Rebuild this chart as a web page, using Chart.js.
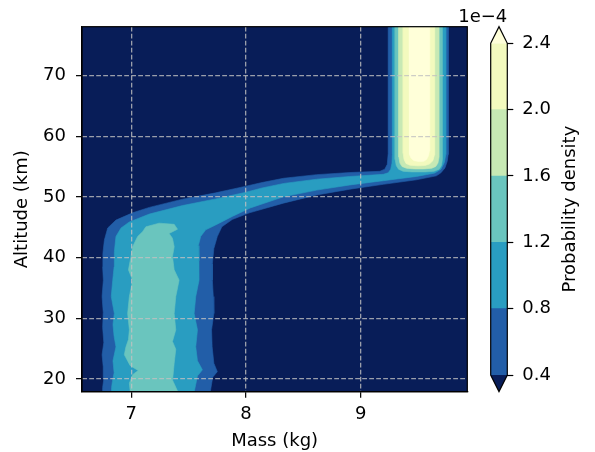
<!DOCTYPE html>
<html>
<head>
<meta charset="utf-8">
<script src="https://cdn.jsdelivr.net/npm/chart.js@4.4.0/dist/chart.umd.min.js"></script>
<style>
  html, body { margin: 0; padding: 0; background: #fff; }
  #wrap { position: relative; width: 595px; height: 452px; }
  #main { position: absolute; left: 0; top: 0; width: 480px; height: 452px; }
  #cbar { position: absolute; left: 440px; top: 0; width: 155px; height: 452px; }
</style>
</head>
<body>
<div id="wrap">
  <canvas id="main" width="480" height="452"></canvas>
  <canvas id="cbar" width="155" height="452"></canvas>
</div>
<script>
var levels = [0.4, 0.8, 1.2, 1.6, 2.0, 2.4];
var bandColors = ['#081d58', '#225ea8', '#299dc1', '#6ac5be', '#c7e9b4', '#f3fabe', '#ffffd9'];
var massTicks = [7, 8, 9];
var altTicks = [20, 30, 40, 50, 60, 70];
var massRange = [6.57, 9.93];
var altRange = [17.9, 78.1];

// filled contour outlines, [mass (kg), altitude (km)]
var edge04 = [[6.75, 16], [6.75, 18.6], [6.76, 20.0], [6.755, 22.0], [6.745, 24.0], [6.76, 26.0], [6.75, 28.5],
  [6.755, 31.0], [6.745, 33.6], [6.756, 36.3], [6.75, 38.5], [6.752, 40.7], [6.765, 42.9], [6.794, 44.9],
  [6.866, 46.2], [7.011, 47.4], [7.157, 48.3], [7.446, 49.65], [7.736, 50.7], [8.0, 51.8], [8.14, 52.4],
  [8.327, 53.1], [8.617, 53.7], [8.907, 54.05], [9.168, 54.25], [9.21, 54.6], [9.232, 55.4], [9.24, 57.2],
  [9.24, 80], [9.763, 80], [9.763, 57.0], [9.755, 55.9], [9.735, 54.8], [9.70, 54.0], [9.66, 53.5],
  [9.487, 52.85], [9.197, 52.1], [8.907, 51.3], [8.617, 50.35], [8.327, 49.0], [8.03, 47.4], [7.88, 46.3],
  [7.79, 45.1], [7.75, 43.5], [7.72, 41.5], [7.707, 39.0], [7.707, 36.3], [7.715, 33.6], [7.72, 30.8],
  [7.70, 28.1], [7.705, 25.3], [7.72, 22.6], [7.75, 21.2], [7.71, 20.3], [7.69, 18.0], [7.69, 16]];
var edge08 = [[6.83, 16], [6.828, 18.6], [6.835, 19.6], [6.85, 21.0], [6.84, 23.0], [6.866, 25.3], [6.85, 27.0],
  [6.84, 29.0], [6.852, 30.8], [6.825, 33.6], [6.838, 36.3], [6.85, 38.5], [6.852, 41.0], [6.866, 43.5],
  [6.91, 44.9], [6.983, 45.9], [7.157, 47.2], [7.446, 48.6], [7.736, 49.7], [8.0, 50.8], [8.14, 51.5],
  [8.33, 52.25], [8.617, 52.95], [8.907, 53.4], [9.197, 53.75], [9.24, 54.0], [9.262, 54.6], [9.273, 55.6],
  [9.276, 57], [9.276, 80], [9.742, 80], [9.742, 57.0], [9.73, 55.7], [9.70, 54.6], [9.646, 53.95],
  [9.487, 53.4], [9.197, 52.7], [8.907, 52.0], [8.617, 51.15], [8.327, 50.05], [8.037, 48.2], [7.88, 46.8],
  [7.736, 45.4], [7.649, 44.6], [7.605, 43.5], [7.585, 42.0], [7.59, 39.5], [7.591, 36.3], [7.562, 33.6],
  [7.548, 30.8], [7.577, 28.1], [7.562, 25.3], [7.577, 23.0], [7.62, 21.5], [7.577, 20.5], [7.55, 18.0], [7.55, 16]];
var edge12Low = [[7.0, 16], [6.99, 18.0], [6.983, 19.3], [7.011, 20.7], [7.06, 21.4], [6.99, 22.2], [6.939, 24.0],
  [6.953, 25.3], [6.975, 26.5], [6.983, 28.1], [6.968, 30.8], [6.983, 33.6], [7.011, 36.3], [6.975, 38.0],
  [6.997, 40.2], [7.011, 41.8], [7.055, 43.5], [7.098, 44.3], [7.127, 45.1], [7.243, 45.7], [7.374, 45.5],
  [7.403, 44.7], [7.33, 44.0], [7.359, 43.2], [7.374, 41.8], [7.359, 40.2], [7.374, 38.0], [7.417, 36.3],
  [7.388, 33.6], [7.374, 30.8], [7.388, 28.1], [7.359, 26.2], [7.388, 24.9], [7.374, 22.6], [7.36, 19.8],
  [7.403, 18.0], [7.403, 16]];
var edge12Top = [[9.301, 80], [9.301, 56.2], [9.31, 55.2], [9.33, 54.6], [9.37, 54.25], [9.45, 54.15],
  [9.56, 54.15], [9.64, 54.25], [9.685, 54.6], [9.705, 55.2], [9.713, 56.2], [9.713, 80]];
var edge16 = [[9.333, 80], [9.333, 56.6], [9.342, 55.6], [9.36, 55.05], [9.40, 54.75], [9.47, 54.65],
  [9.55, 54.65], [9.62, 54.75], [9.655, 55.05], [9.674, 55.6], [9.684, 56.6], [9.684, 80]];
var edge20 = [[9.371, 80], [9.371, 57.2], [9.378, 56.2], [9.395, 55.55], [9.43, 55.25], [9.50, 55.15],
  [9.56, 55.2], [9.60, 55.45], [9.63, 56.0], [9.643, 56.9], [9.646, 58], [9.646, 80]];
var edge24 = [[9.423, 80], [9.423, 58.0], [9.428, 57.0], [9.44, 56.4], [9.465, 56.0], [9.51, 55.85],
  [9.55, 55.9], [9.575, 56.2], [9.592, 56.8], [9.60, 57.6], [9.603, 58.5], [9.603, 80]];

var contours = [
  {pts: edge04, band: 1}, {pts: edge08, band: 2}, {pts: edge12Low, band: 3}, {pts: edge12Top, band: 3},
  {pts: edge16, band: 4}, {pts: edge20, band: 5}, {pts: edge24, band: 6}
];

var FONT = 'DejaVu Sans';
var font18 = {family: FONT, size: 18};

var plotFrame = {
  id: 'plotFrame',
  beforeDatasetsDraw: function(chart) {
    var a = chart.chartArea, ctx = chart.ctx;
    ctx.save();
    ctx.fillStyle = bandColors[0];
    ctx.fillRect(a.left, a.top, a.right - a.left, a.bottom - a.top);
    ctx.restore();
  },
  afterDraw: function(chart) {
    var a = chart.chartArea, ctx = chart.ctx;
    ctx.save();
    ctx.strokeStyle = '#000';
    ctx.lineWidth = 1.2;
    ctx.strokeRect(a.left, a.top, a.right - a.left, a.bottom - a.top);
    ctx.restore();
  }
};

function axisOpts(ticks, range, pad, extra) {
  var o = {
    type: 'linear',
    min: range[0],
    max: range[1],
    afterBuildTicks: function(s) { s.ticks = ticks.map(function(v) { return {value: v}; }); },
    ticks: {font: font18, color: '#000', padding: pad, callback: function(v) { return String(v); }},
    grid: {color: 'rgba(192,192,192,0.8)', lineWidth: 1.3, z: 1, tickColor: '#000',
           tickLength: 6, tickWidth: 1.2, tickBorderDash: []},
    border: {display: true, color: '#000', width: 1.2, dash: [4.8, 2.2], z: 2}
  };
  for (var k in extra) o[k] = extra[k];
  return o;
}

new Chart(document.getElementById('main'), {
  type: 'line',
  data: {
    datasets: contours.map(function(c, i) {
      return {
        data: c.pts.map(function(p) { return {x: p[0], y: p[1]}; }),
        fill: 'shape',
        backgroundColor: bandColors[c.band],
        borderColor: bandColors[c.band],
        borderWidth: 0.6,
        pointRadius: 0,
        tension: 0,
        order: -i
      };
    })
  },
  options: {
    responsive: false,
    animation: false,
    layout: {padding: {top: 26.7, right: 12.7, left: 0, bottom: 0}},
    plugins: {legend: {display: false}, tooltip: {enabled: false}},
    scales: {
      x: axisOpts(massTicks, massRange, 6, {
        afterFit: function(s) { s.height = 60.3; },
        title: {display: true, text: 'Mass (kg)', font: font18, color: '#000', padding: {top: 0, bottom: 0}}
      }),
      y: axisOpts(altTicks, altRange, 10, {
        afterFit: function(s) { s.width = 82; },
        title: {display: true, text: 'Altitude (km)', font: font18, color: '#000', padding: {top: 12, bottom: 0}}
      })
    }
  },
  plugins: [plotFrame]
});

// colour bar
var cbarFrame = {
  id: 'cbarFrame',
  afterDatasetsDraw: function(chart) {
    var ctx = chart.ctx, a = chart.chartArea, y = chart.scales.y;
    var top = y.getPixelForValue(levels[levels.length - 1]);
    var bot = y.getPixelForValue(levels[0]);
    var ext = (bot - top) * 0.05;
    var mid = (a.left + a.right) / 2;
    ctx.save();
    ctx.fillStyle = bandColors[bandColors.length - 1];
    ctx.beginPath(); ctx.moveTo(a.left, top); ctx.lineTo(mid, top - ext); ctx.lineTo(a.right, top); ctx.closePath(); ctx.fill();
    ctx.fillStyle = bandColors[0];
    ctx.beginPath(); ctx.moveTo(a.left, bot); ctx.lineTo(mid, bot + ext); ctx.lineTo(a.right, bot); ctx.closePath(); ctx.fill();
    ctx.strokeStyle = '#000';
    ctx.lineWidth = 1.2;
    ctx.beginPath();
    ctx.moveTo(a.left, top); ctx.lineTo(mid, top - ext); ctx.lineTo(a.right, top);
    ctx.lineTo(a.right, bot); ctx.lineTo(mid, bot + ext); ctx.lineTo(a.left, bot);
    ctx.closePath(); ctx.stroke();
    ctx.fillStyle = '#000';
    ctx.font = '18px "DejaVu Sans"';
    ctx.textAlign = 'right';
    ctx.textBaseline = 'alphabetic';
    ctx.fillText('1e\u22124', a.right, top - ext - 5);
    ctx.translate(a.right + 63, (top + bot) / 2);
    ctx.rotate(-Math.PI / 2);
    ctx.textAlign = 'center';
    ctx.textBaseline = 'middle';
    ctx.fillText('Probability density', 0, 0);
    ctx.restore();
  }
};

new Chart(document.getElementById('cbar'), {
  type: 'bar',
  data: {
    labels: [''],
    datasets: levels.slice(1).map(function(hi, i) {
      return {
        data: [[levels[i], hi]],
        backgroundColor: bandColors[i + 1],
        borderWidth: 0,
        grouped: false,
        barPercentage: 1,
        categoryPercentage: 1
      };
    })
  },
  options: {
    responsive: false,
    animation: false,
    layout: {padding: {top: 43.3, right: 0, left: 50.7, bottom: 77}},
    plugins: {legend: {display: false}, tooltip: {enabled: false}},
    scales: {
      x: {display: false},
      y: {
        type: 'linear',
        position: 'right',
        min: levels[0],
        max: levels[levels.length - 1],
        afterBuildTicks: function(s) { s.ticks = levels.map(function(v) { return {value: v}; }); },
        afterFit: function(s) { s.width = 87.7; },
        ticks: {font: font18, color: '#000', padding: 9, callback: function(v) { return v.toFixed(1); }},
        grid: {drawOnChartArea: false, tickColor: '#000', tickLength: 6, tickWidth: 1.2},
        border: {display: false}
      }
    }
  },
  plugins: [cbarFrame]
});
</script>
</body>
</html>
